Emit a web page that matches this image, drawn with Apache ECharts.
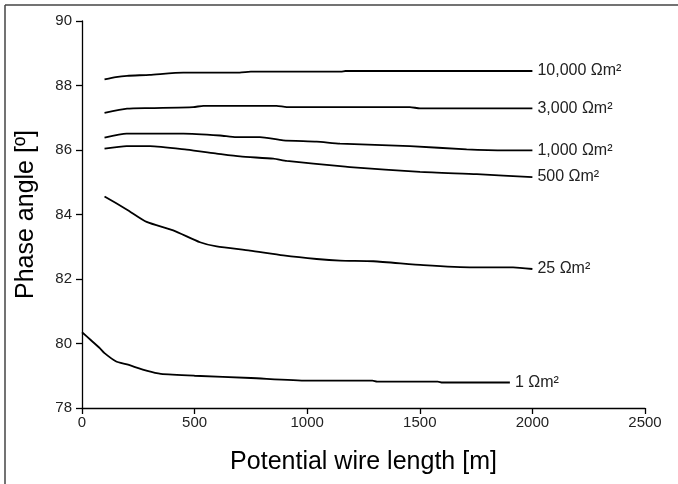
<!DOCTYPE html>
<html>

<head>
  <meta charset="utf-8">
  <title>Phase angle vs wire length</title>
  <style>
    html, body { margin: 0; padding: 0; background: #fff; }
    #box { width: 678px; height: 484px; }
  </style>
</head>

<body>
  <div id="box"></div>
  <script src="https://cdn.jsdelivr.net/npm/echarts@6/dist/echarts.min.js"></script>

  <script type="text/javascript">
    // curve names (soil resistivity)
    var names = ['10,000 Ωm²', '3,000 Ωm²', '1,000 Ωm²', '500 Ωm²', '25 Ωm²', '1 Ωm²'];

    // x values (m) and phase angle values (deg) for each curve
    var x10000 = [100, 150, 200, 300, 450, 700, 750, 1150, 1170, 2000];
    var y10000 = [88.19, 88.26, 88.30, 88.33, 88.40, 88.40, 88.43, 88.43, 88.45, 88.45];

    var x3000 = [100, 200, 300, 494, 539, 864, 909, 1456, 1501, 2000];
    var y3000 = [87.15, 87.28, 87.30, 87.33, 87.37, 87.37, 87.33, 87.33, 87.29, 87.29];

    var x1000 = [100, 198, 450, 613, 685, 790, 893, 1042, 1146, 1456, 1708, 1886, 2000];
    var y1000 = [86.38, 86.51, 86.51, 86.45, 86.40, 86.40, 86.30, 86.26, 86.20, 86.12, 86.02, 85.99, 85.99];

    var x500 = [100, 198, 302, 465, 598, 702, 850, 909, 1146, 1190, 1501, 1753, 2000];
    var y500 = [86.04, 86.12, 86.12, 86.01, 85.89, 85.80, 85.73, 85.66, 85.50, 85.47, 85.32, 85.25, 85.16];

    var x25 = [100, 200, 287, 405, 524, 598, 746, 894, 1042, 1146, 1294, 1516, 1738, 1914, 2000];
    var y25 = [84.56, 84.15, 83.77, 83.51, 83.14, 83.01, 82.88, 82.73, 82.62, 82.57, 82.55, 82.43, 82.36, 82.36, 82.31];

    var x1 = [0, 40, 80, 100, 150, 200, 290, 350, 500, 750, 1000, 1290, 1310, 1580, 1600, 1900];
    var y1 = [80.35, 80.10, 79.85, 79.70, 79.45, 79.35, 79.15, 79.06, 79.00, 78.93, 78.85, 78.85, 78.82, 78.82, 78.79, 78.79];

    var xs = [x10000, x3000, x1000, x500, x25, x1];
    var ys = [y10000, y3000, y1000, y500, y25, y1];

    function pairs(a, b) {
      var out = [];
      for (var i = 0; i < a.length; i++) out.push([a[i], b[i]]);
      return out;
    }

    var font = 'Liberation Sans, Arial, sans-serif';

    var series = names.map(function (n, i) {
      return {
        name: n,
        type: 'line',
        data: pairs(xs[i], ys[i]),
        showSymbol: false,
        smooth: 0.2,
        lineStyle: { color: '#000', width: 1.8 },
        endLabel: {
          show: true,
          formatter: '{a}',
          color: '#222',
          fontSize: 16,
          fontFamily: font,
          distance: 5
        },
        silent: true
      };
    });

    var chart = echarts.init(document.getElementById('box'));
    chart.setOption({
      animation: false,
      grid: { left: 82, right: 33, top: 21, bottom: 76, containLabel: false },
      xAxis: {
        type: 'value',
        min: 0,
        max: 2500,
        interval: 500,
        name: 'Potential wire length [m]',
        nameLocation: 'middle',
        nameGap: 42,
        nameTextStyle: { fontSize: 25, color: '#000', fontFamily: font },
        axisLine: { lineStyle: { color: '#000', width: 1.3 } },
        axisTick: { length: 6, lineStyle: { color: '#000', width: 1.3 } },
        axisLabel: {
          fontSize: 15, color: '#222', fontFamily: font, margin: 7,
          formatter: function (v) { return String(v); }
        },
        splitLine: { show: false }
      },
      yAxis: {
        type: 'value',
        min: 78,
        max: 90,
        interval: 2,
        name: 'Phase angle [º]',
        nameLocation: 'middle',
        nameGap: 43,
        nameTextStyle: { fontSize: 25, color: '#000', fontFamily: font },
        axisLine: { show: true, lineStyle: { color: '#000', width: 1.3 } },
        axisTick: { show: true, length: 6, lineStyle: { color: '#000', width: 1.3 } },
        axisLabel: { fontSize: 15, color: '#222', fontFamily: font, margin: 10 },
        splitLine: { show: false }
      },
      // frame lines of the figure (left and top)
      graphic: [
        { type: 'line', shape: { x1: 5, y1: 5, x2: 5, y2: 484 }, style: { stroke: '#444', lineWidth: 1.5 } },
        { type: 'line', shape: { x1: 5, y1: 5, x2: 678, y2: 5 }, style: { stroke: '#444', lineWidth: 1.5 } }
      ],
      series: series
    });
  </script>
</body>

</html>
